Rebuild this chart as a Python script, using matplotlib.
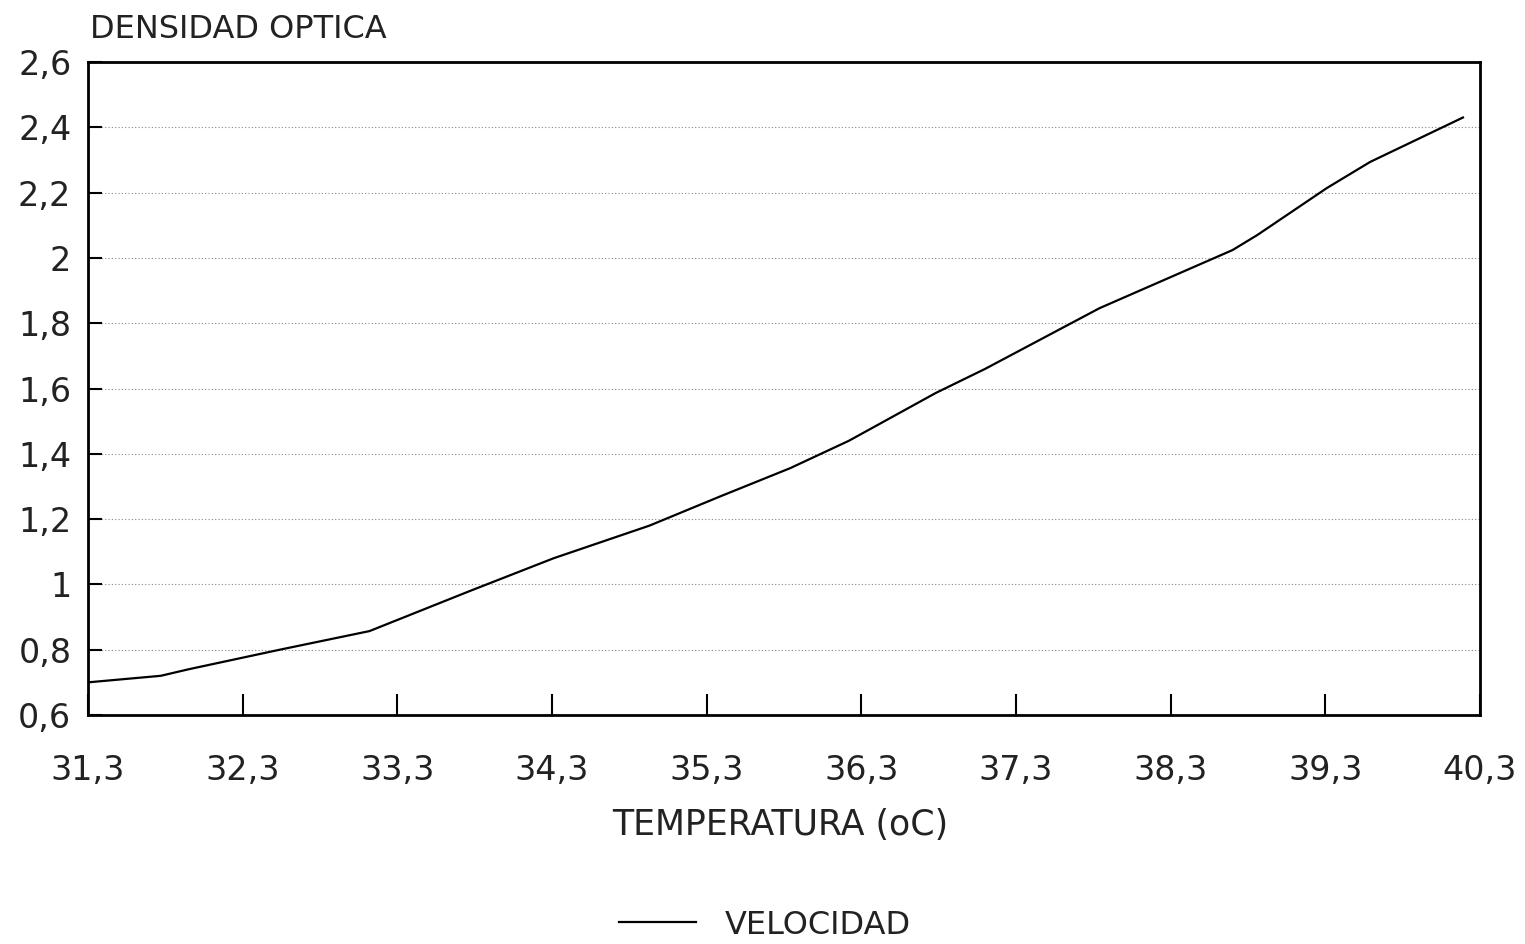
#!/usr/bin/env python3
"""
Densidad optica frente a temperatura
"""

import matplotlib
matplotlib.use("Agg")
import matplotlib.pyplot as plt
from matplotlib.ticker import FuncFormatter

# data
temperatura = [31.3, 31.77, 31.95, 32.54, 33.12, 33.77, 34.31, 34.93, 35.39,
               35.84, 36.22, 36.78, 37.1, 37.84, 38.70, 38.86, 39.31, 39.59, 40.19]
densidad = [0.70, 0.72, 0.74, 0.80, 0.857, 0.98, 1.08, 1.18, 1.27,
            1.356, 1.44, 1.586, 1.66, 1.846, 2.024, 2.07, 2.214, 2.294, 2.43]

x_ticks = [31.3, 32.3, 33.3, 34.3, 35.3, 36.3, 37.3, 38.3, 39.3, 40.3]
y_ticks = [0.6, 0.8, 1.0, 1.2, 1.4, 1.6, 1.8, 2.0, 2.2, 2.4, 2.6]


def comma(val, pos):
    return ("%g" % round(val, 2)).replace(".", ",")


def main():
    plt.rcParams['font.family'] = ['DejaVu Sans']
    fig = plt.figure(figsize=(15.25, 9.44), dpi=100)
    ax = fig.add_axes([88 / 1525, 1 - 715 / 944, (1480 - 88) / 1525, (715 - 62) / 944])

    line, = ax.plot(temperatura, densidad, color='black', lw=1.6, label='VELOCIDAD')

    ax.set_xlim(31.3, 40.3)
    ax.set_ylim(0.6, 2.6)
    ax.set_xticks(x_ticks)
    ax.set_yticks(y_ticks)
    ax.xaxis.set_major_formatter(FuncFormatter(comma))
    ax.yaxis.set_major_formatter(FuncFormatter(comma))
    ax.tick_params(axis='both', direction='in', labelsize=24, width=1.5,
                   colors='black', labelcolor='#222222')
    ax.tick_params(axis='x', length=15, pad=28)
    ax.tick_params(axis='y', length=10, pad=12)
    ax.grid(axis='y', color='#888888', linestyle=(0, (1, 2)), lw=0.8)
    for sp in ax.spines.values():
        sp.set_linewidth(2)
        sp.set_color('black')

    fig.text(90 / 1525, 1 - 30 / 944, 'DENSIDAD OPTICA', fontsize=23,
             color='#222222', ha='left', va='center')
    fig.text(780 / 1525, 1 - 825 / 944, 'TEMPERATURA (oC)', fontsize=25,
             color='#222222', ha='center', va='center')

    fig.legend(handles=[line], loc='center', bbox_to_anchor=(765 / 1525, 1 - 925 / 944),
               frameon=False, fontsize=23, handlelength=2.4, handletextpad=0.9,
               labelcolor='#222222')

    fig.savefig('out.png', dpi=100)


if __name__ == "__main__":
    main()
